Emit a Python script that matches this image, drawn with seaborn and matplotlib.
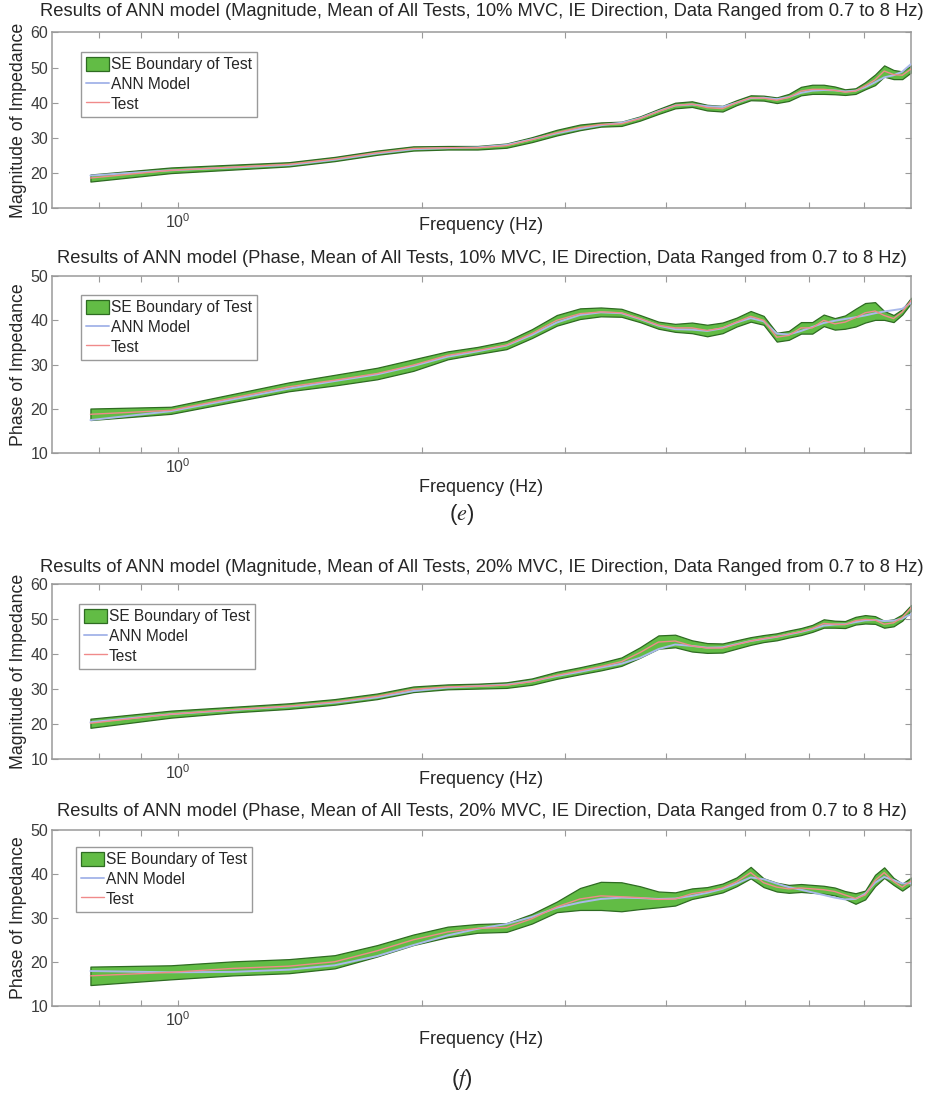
import numpy as np
import pandas as pd
import matplotlib
matplotlib.use("Agg")
import matplotlib.pyplot as plt
import seaborn as sns
from matplotlib.patches import Patch
from matplotlib.lines import Line2D
from matplotlib.ticker import FixedLocator, FixedFormatter, NullFormatter

# Frequency grid (Hz)
freq = [0.78, 0.98, 1.17, 1.37, 1.56, 1.76, 1.95, 2.15, 2.34, 2.54,
        2.73, 2.93, 3.13, 3.32, 3.52, 3.71, 3.91, 4.10, 4.30, 4.49,
        4.69, 4.88, 5.08, 5.27, 5.47, 5.66, 5.86, 6.05, 6.25, 6.45,
        6.64, 6.84, 7.03, 7.23, 7.42, 7.62, 7.81, 8.01]

# Magnitude, 10% MVC
mag10_test = [18.6, 20.8, 21.7, 22.5, 24.0, 25.8, 27.0, 27.2, 27.2, 27.8,
              29.5, 31.5, 33.0, 33.8, 34.0, 35.5, 37.5, 39.2, 39.6, 38.6,
              38.3, 40.0, 41.4, 41.3, 40.7, 41.5, 43.3, 43.8, 43.8, 43.5,
              43.0, 43.3, 44.8, 46.5, 49.0, 48.0, 47.8, 49.6]
mag10_se = [1.0, 0.8, 0.7, 0.6, 0.6, 0.6, 0.6, 0.5, 0.5, 0.6,
            0.7, 0.8, 0.8, 0.6, 0.6, 0.6, 0.7, 0.8, 0.8, 0.8,
            0.8, 0.7, 0.7, 0.7, 0.8, 1.0, 1.2, 1.3, 1.3, 1.1,
            0.8, 0.8, 1.0, 1.5, 1.6, 1.3, 1.1, 1.0]
mag10_ann = [19.3, 20.8, 21.6, 22.3, 23.8, 25.6, 26.8, 27.1, 27.3, 28.0,
             29.6, 31.3, 32.6, 33.6, 34.3, 35.6, 37.6, 39.2, 39.5, 39.0,
             38.8, 40.0, 41.3, 41.4, 41.0, 41.6, 42.8, 43.4, 43.6, 43.5,
             43.2, 43.4, 44.4, 45.8, 47.2, 47.8, 48.8, 51.0]

# Phase, 10% MVC
ph10_test = [18.8, 19.7, 22.5, 25.0, 26.5, 28.0, 29.9, 32.1, 33.2, 34.4,
             37.0, 40.0, 41.5, 41.9, 41.7, 40.4, 38.9, 38.3, 38.3, 37.7,
             38.3, 39.6, 40.9, 40.0, 36.2, 36.6, 38.3, 38.3, 40.0, 39.2,
             39.6, 40.6, 41.7, 42.1, 41.1, 40.4, 41.9, 44.5]
ph10_se = [1.3, 0.8, 0.9, 1.0, 1.2, 1.3, 1.3, 0.9, 0.8, 0.9,
           1.0, 1.2, 1.2, 1.0, 0.9, 0.8, 0.8, 0.9, 1.2, 1.3,
           1.2, 1.0, 1.2, 1.0, 1.0, 1.0, 1.3, 1.3, 1.3, 1.3,
           1.5, 2.0, 2.2, 2.0, 1.0, 0.8, 0.6, 0.6]
ph10_ann = [17.5, 19.5, 22.2, 24.6, 26.3, 27.8, 29.7, 31.8, 33.0, 34.3,
            36.7, 39.5, 41.2, 41.8, 41.6, 40.3, 38.8, 38.0, 37.9, 37.6,
            38.2, 39.5, 40.5, 39.8, 37.0, 36.8, 37.6, 38.5, 39.4, 39.9,
            40.3, 40.7, 41.1, 41.6, 42.0, 42.3, 42.6, 44.0]

# Magnitude, 20% MVC
mag20_test = [20.3, 22.9, 24.2, 25.2, 26.4, 28.0, 30.0, 30.7, 30.9, 31.2,
              32.2, 34.0, 35.3, 36.5, 37.9, 40.5, 43.5, 43.8, 42.4, 41.8,
              41.8, 42.8, 43.8, 44.5, 45.0, 45.8, 46.5, 47.4, 48.8, 48.6,
              48.5, 49.6, 50.0, 49.8, 48.6, 49.0, 50.5, 53.3]
mag20_se = [1.3, 1.0, 0.8, 0.8, 0.8, 0.8, 0.8, 0.7, 0.7, 0.8,
            0.9, 1.0, 1.0, 1.1, 1.2, 1.5, 1.9, 1.8, 1.6, 1.4,
            1.3, 1.2, 1.1, 1.0, 1.0, 1.0, 1.0, 1.0, 1.2, 1.0,
            1.0, 1.1, 1.2, 1.1, 1.0, 1.0, 0.9, 0.8]
mag20_ann = [20.6, 22.9, 24.1, 25.1, 26.2, 27.7, 29.5, 30.5, 30.9, 31.3,
             32.3, 33.8, 35.0, 36.2, 37.3, 39.0, 41.5, 42.8, 42.4, 41.9,
             42.0, 42.9, 43.8, 44.4, 45.0, 45.7, 46.4, 47.2, 48.2, 48.5,
             48.6, 49.2, 49.7, 49.8, 49.5, 49.6, 50.2, 51.5]

# Phase, 20% MVC
ph20_test = [16.8, 17.6, 18.5, 19.0, 20.0, 22.5, 25.0, 26.8, 27.6, 27.8,
             29.8, 32.5, 34.3, 35.0, 34.8, 34.6, 34.2, 34.3, 35.5, 36.0,
             36.8, 38.2, 40.3, 38.0, 37.0, 36.6, 36.8, 36.6, 36.4, 36.0,
             35.2, 34.4, 35.2, 38.5, 40.3, 38.3, 37.0, 38.4]
ph20_se = [2.1, 1.6, 1.6, 1.6, 1.5, 1.3, 1.2, 1.2, 1.0, 1.0,
           1.1, 1.2, 2.5, 3.2, 3.3, 2.6, 1.8, 1.5, 1.2, 1.0,
           1.0, 1.0, 1.3, 1.0, 1.0, 0.9, 0.9, 0.9, 0.9, 0.9,
           0.9, 1.2, 1.0, 1.3, 1.2, 0.8, 0.8, 0.8]
ph20_ann = [17.9, 17.6, 17.7, 18.2, 19.2, 21.3, 23.8, 26.0, 27.5, 28.6,
            30.2, 32.3, 33.5, 34.3, 34.6, 34.5, 34.3, 34.4, 35.0, 35.7,
            36.6, 37.8, 39.2, 38.8, 37.8, 37.0, 36.4, 35.8, 35.2, 34.6,
            34.2, 34.3, 35.5, 38.0, 39.3, 38.6, 37.8, 37.9]

titles = [
    "Results of ANN model (Magnitude, Mean of All Tests, 10% MVC, IE Direction, Data Ranged from 0.7 to 8 Hz)",
    "Results of ANN model (Phase, Mean of All Tests, 10% MVC, IE Direction, Data Ranged from 0.7 to 8 Hz)",
    "Results of ANN model (Magnitude, Mean of All Tests, 20% MVC, IE Direction, Data Ranged from 0.7 to 8 Hz)",
    "Results of ANN model (Phase, Mean of All Tests, 20% MVC, IE Direction, Data Ranged from 0.7 to 8 Hz)",
]
ylabels = ["Magnitude of Impedance", "Phase of Impedance",
           "Magnitude of Impedance", "Phase of Impedance"]
legend_labels = ["SE Boundary of Test", "ANN Model", "Test"]
captions = [r"$(\mathit{e})$", r"$(\mathit{f})$"]

sns.set_theme(style="ticks")
plt.rcParams["font.family"] = ["Liberation Sans", "DejaVu Sans"]
plt.rcParams["mathtext.default"] = "regular"

W, H = 925, 1099
fig = plt.figure(figsize=(W / 100, H / 100), dpi=100)

GREEN = "#62bc45"
GREEN_EDGE = "#2e6b22"
BLUE = "#a9b9ea"
RED = "#f08a8a"
SPINE = "#9a9a9a"

# axes boxes in pixels: (top, bottom), title centre, xlabel centre, legend corner
left_px, right_px = 52.3, 910.7
layout = [
    dict(top=32.3, bottom=208.3, title_y=12, xlabel_y=226, leg=(81, 52), ylim=(10, 60)),
    dict(top=276.0, bottom=453.3, title_y=259, xlabel_y=488, leg=(81, 295), ylim=(10, 50)),
    dict(top=584.3, bottom=759.3, title_y=567, xlabel_y=780, leg=(79, 604), ylim=(10, 60)),
    dict(top=830.0, bottom=1005.7, title_y=811, xlabel_y=1040, leg=(76, 847), ylim=(10, 50)),
]
series = [
    (mag10_test, mag10_se, mag10_ann),
    (ph10_test, ph10_se, ph10_ann),
    (mag20_test, mag20_se, mag20_ann),
    (ph20_test, ph20_se, ph20_ann),
]

for i, (lay, (test, se, ann)) in enumerate(zip(layout, series)):
    h_px = lay["bottom"] - lay["top"]
    w_px = right_px - left_px
    ax = fig.add_axes([left_px / W, 1 - lay["bottom"] / H, w_px / W, h_px / H])
    ax.set_xscale("log")

    df = pd.DataFrame({
        "Frequency": freq,
        "Test": test,
        "ANN": ann,
        "Lower": np.array(test) - np.array(se),
        "Upper": np.array(test) + np.array(se),
    })
    ax.fill_between(df["Frequency"], df["Lower"], df["Upper"],
                    facecolor=GREEN, edgecolor=GREEN_EDGE, linewidth=0.9, zorder=2)
    sns.lineplot(data=df, x="Frequency", y="ANN", ax=ax, color=BLUE,
                 linewidth=1.4, legend=False, zorder=3)
    sns.lineplot(data=df, x="Frequency", y="Test", ax=ax, color=RED,
                 linewidth=1.0, legend=False, zorder=4)

    ax.set_xlim(0.7, 8)
    ax.set_ylim(*lay["ylim"])
    ax.set_yticks(np.arange(lay["ylim"][0], lay["ylim"][1] + 1, 10))
    ax.xaxis.set_major_locator(FixedLocator([1.0]))
    ax.xaxis.set_major_formatter(FixedFormatter([r"$\mathdefault{10^{0}}$"]))
    ax.xaxis.set_minor_locator(FixedLocator([0.8, 0.9, 2, 3, 4, 5, 6, 7]))
    ax.xaxis.set_minor_formatter(NullFormatter())
    ax.tick_params(axis="both", which="both", direction="in", top=True, right=True,
                   length=4, width=0.8, color=SPINE, labelsize=11.5,
                   labelcolor="#3c3c3c", pad=3)
    for sp in ax.spines.values():
        sp.set_color(SPINE)
        sp.set_linewidth(1.1)

    ax.set_title(titles[i], fontsize=13.2, pad=0, va="center",
                 y=1 + (lay["top"] - lay["title_y"]) / h_px)
    ax.set_ylabel(ylabels[i], fontsize=12.8, va="center")
    ax.yaxis.set_label_coords((19 - left_px) / w_px, 0.5)
    ax.set_xlabel("Frequency (Hz)", fontsize=13)
    ax.xaxis.label.set_va("center")
    ax.xaxis.set_label_coords(0.5, -(lay["xlabel_y"] - lay["bottom"]) / h_px)

    handles = [
        Patch(facecolor=GREEN, edgecolor=GREEN_EDGE, linewidth=0.9, label=legend_labels[0]),
        Line2D([], [], color=BLUE, linewidth=1.4, label=legend_labels[1]),
        Line2D([], [], color=RED, linewidth=1.0, label=legend_labels[2]),
    ]
    lx, ly = lay["leg"]
    leg = ax.legend(handles=handles, loc="upper left",
                    bbox_to_anchor=((lx - left_px) / w_px, 1 - (ly - lay["top"]) / h_px),
                    borderaxespad=0, fontsize=11.2, frameon=True, fancybox=False,
                    framealpha=1, edgecolor=SPINE, handlelength=1.5, handleheight=1.0,
                    handletextpad=0.1, labelspacing=0.28, borderpad=0.32)
    leg.get_frame().set_linewidth(1.0)

fig.text(462 / W, 1 - 515 / H, captions[0], ha="center", va="center",
         fontsize=16, math_fontfamily="stix")
fig.text(462 / W, 1 - 1080 / H, captions[1], ha="center", va="center",
         fontsize=16, math_fontfamily="stix")

fig.savefig("out.png", dpi=100, facecolor="white")
